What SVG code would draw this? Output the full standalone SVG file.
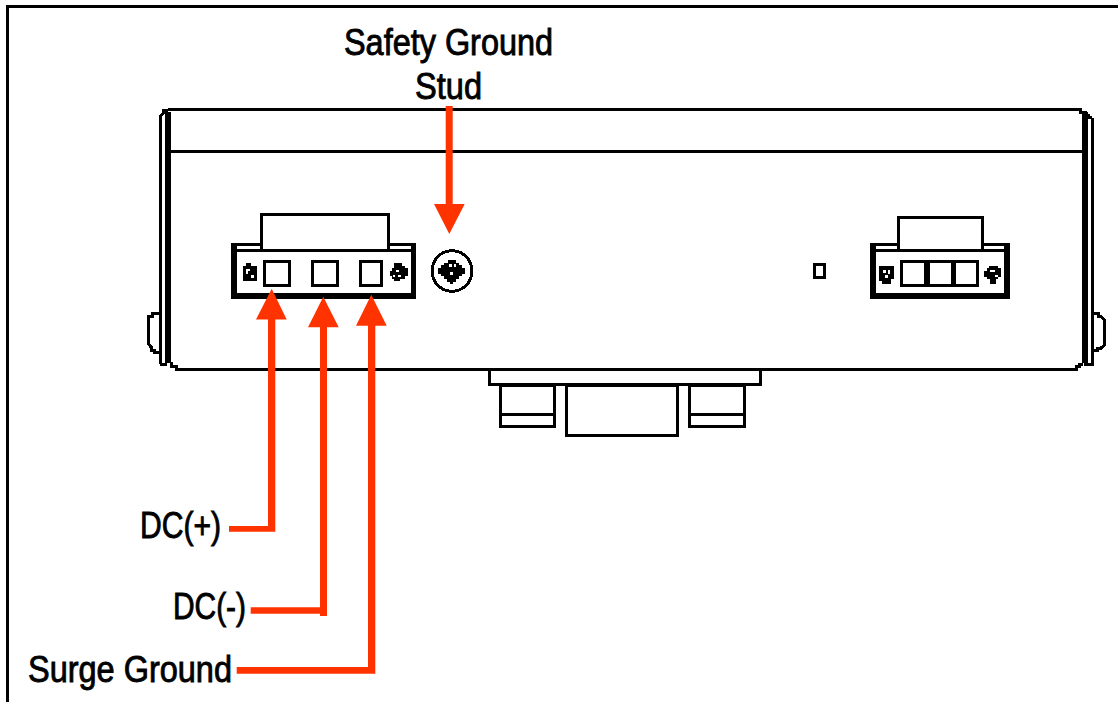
<svg xmlns="http://www.w3.org/2000/svg" width="1118" height="702" viewBox="0 0 1118 702">
<style>
.ln{fill:none;stroke:#000;stroke-width:3;shape-rendering:crispEdges}
.bx{fill:#fff;stroke:#000;stroke-width:3;shape-rendering:crispEdges}
.k{fill:#000;shape-rendering:crispEdges}
.w{fill:#fff;shape-rendering:crispEdges}
.o{fill:#ff3300}
.t{font-family:"Liberation Sans",Arial,sans-serif;font-size:37px;fill:#000;stroke:#000;stroke-width:.9}
</style>
<rect width="1118" height="702" fill="#fff"/>
<g id="frame"><path class="k" d="M6 5H1118V8H9V702H6Z"/></g>
<g id="enclosure">
<path class="ln" d="M159 313.500H152V316H148.500V344L151 347V350H154V352H160"/>
<path class="ln" d="M1092 313.500H1098V316.500H1101L1104.500 320V345L1101 348H1097V350H1092"/>
<path class="ln" d="M160.500 364V116L163.500 113V110H168M160 364H167"/>
<path class="ln" d="M1092 118V364H1084"/>
<rect class="k" x="165" y="112" width="6" height="251"/>
<rect class="k" x="1082" y="112" width="6" height="251"/>
<path class="ln" d="M168 109.500H1080V112H1085V115H1088V117H1092"/>
<path class="ln" d="M170 151.500H1082"/>
<path class="ln" d="M171 362V366H176V369.500H1076V366.500H1079V364H1083"/>
</g>
<g id="din-clip">
<rect class="bx" x="489.500" y="369.500" width="271" height="15"/>
<rect class="bx" x="500.500" y="385" width="54" height="41.500"/>
<path class="ln" d="M500 414H555"/>
<rect class="bx" x="566.500" y="385" width="111" height="50.500"/>
<rect class="bx" x="689.500" y="385" width="54.500" height="41.500"/>
<path class="ln" d="M689 414H745"/>
</g>
<g id="left-connector">
<rect class="bx" x="232.500" y="244.500" width="182" height="52"/>
<rect class="k" x="231" y="293" width="185" height="6"/>
<rect class="k" x="231" y="243" width="6" height="55"/>
<rect class="k" x="411" y="243" width="5" height="55"/>
<rect class="k" x="231" y="249" width="185" height="3"/>
<rect class="bx" x="261.500" y="214.500" width="126.500" height="36"/>
<rect class="bx" x="264.500" y="261.500" width="24.500" height="24"/>
<rect class="bx" x="312.500" y="261.500" width="24.500" height="24"/>
<rect class="bx" x="360.500" y="261.500" width="21" height="24"/>
<path class="k" d="M246 263H251V266H257V281H243V266H246Z"/>
<path class="w" d="M246 269H250V271H248V274H246ZM251 275H254V278H251Z"/>
<path class="k" d="M394 263H402V266H405V268H407.500V276H405V279H400V281H394V279H392V276H389.500V271H392V268H394Z"/>
<path class="w" d="M396 270H399V272H396ZM393 275H395V277H393ZM398 275H401V277H398Z"/>
</g>
<g id="ground-stud">
<ellipse class="ln" cx="452" cy="271" rx="20" ry="20.300"/>
<path class="k" d="M448 260H456V262.700H459V265.400H461.700V268.100H464.700V273.500H461.700V276.200H459V278.900H456V281.600H453V284.300H450V281.600H447V278.900H444V276.200H441V273.500H437.500V268.100H441V265.400H444V262.700H448Z"/>
<path class="w" d="M449 264H451.700V266.700H449ZM453.500 264H456V266.700H453.500ZM450 272H452.700V274.700H450Z"/>
</g>
<g id="led"><rect class="bx" x="814.500" y="264.500" width="9.500" height="12.500"/></g>
<g id="right-connector">
<rect class="bx" x="871.500" y="244.500" width="137" height="52"/>
<rect class="k" x="870" y="293" width="140" height="6"/>
<rect class="k" x="870" y="243" width="6" height="55"/>
<rect class="k" x="1004" y="243" width="6" height="55"/>
<rect class="k" x="870" y="249" width="140" height="3"/>
<rect class="bx" x="898.500" y="217.500" width="84" height="33"/>
<rect class="bx" x="901.500" y="261.500" width="75.500" height="24"/>
<rect class="k" x="924" y="260" width="6" height="27"/>
<rect class="k" x="951" y="260" width="5" height="27"/>
<path class="k" d="M879 266H894V279H891V284H882V281H879Z"/>
<path class="w" d="M883 270H886V273H883ZM888 270H890V274H888V278H885V275H888Z"/>
<path class="k" d="M989 266H998V268H1001V277H998V279H996V284H990V279H987V277H984V271H987V268H989Z"/>
<path class="w" d="M990 270H995V272H990ZM995 275H998V277H995Z"/>
</g>
<g id="connectors">
<path class="o" d="M445.700 106H452.700V204H464.700L449.300 234L434 204H445.700ZM268 319.500H256L271.700 288.700L286.700 319.500H275.300V531.700H229V526H268ZM320 327.300H308L323.300 296.700L338.700 327.300H327V616H320V613.700H250.700V607.300H320ZM368 325.700H356L371.300 294.700L386.700 325.700H375.300V673.700H236.700V667H368Z"/>
</g>
<g id="labels">
<text class="t" x="344" y="55" textLength="209" lengthAdjust="spacingAndGlyphs">Safety Ground</text>
<text class="t" x="415" y="98.500" textLength="67" lengthAdjust="spacingAndGlyphs">Stud</text>
<text class="t" x="140" y="537.500" textLength="81" lengthAdjust="spacingAndGlyphs">DC(+)</text>
<text class="t" x="173" y="618.500" textLength="73" lengthAdjust="spacingAndGlyphs">DC(-)</text>
<text class="t" x="28" y="682" textLength="204" lengthAdjust="spacingAndGlyphs">Surge Ground</text>
</g>
</svg>
